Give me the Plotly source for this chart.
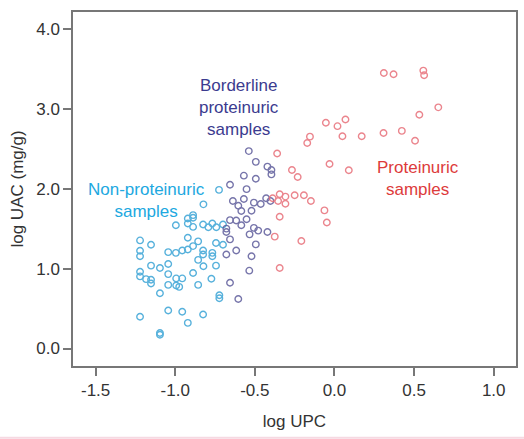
import plotly.graph_objects as go

# Non-proteinuric samples
non_x = [-0.725, -0.823, -0.888, -0.888, -0.921, -0.921, -0.996, -0.888, -0.825, -0.792,
         -0.767, -0.742, -0.700, -0.921, -0.856, -0.744, -0.700, -1.221, -1.152, -1.221,
         -1.221, -1.044, -0.996, -0.956, -0.921, -0.888, -0.825, -0.825, -0.767, -0.767,
         -0.856, -1.152, -1.096, -1.044, -1.044, -0.823, -0.744, -1.221, -1.221, -1.183,
         -1.152, -1.152, -0.994, -0.956, -0.888, -0.773, -1.044, -0.994, -0.975, -0.856,
         -1.096, -0.723, -0.723, -1.221, -1.044, -0.956, -0.825, -0.921, -1.096, -1.096]
non_y = [1.987, 1.806, 1.671, 1.637, 1.629, 1.565, 1.544, 1.523, 1.553, 1.519,
         1.565, 1.519, 1.553, 1.388, 1.342, 1.321, 1.300, 1.354, 1.300, 1.224,
         1.156, 1.207, 1.198, 1.228, 1.241, 1.283, 1.228, 1.177, 1.198, 1.156,
         1.110, 1.038, 1.008, 1.059, 0.932, 1.030, 1.038, 0.962, 0.903, 0.869,
         0.861, 0.814, 0.878, 0.878, 0.945, 0.873, 0.797, 0.789, 0.772, 0.797,
         0.692, 0.667, 0.629, 0.397, 0.477, 0.460, 0.426, 0.321, 0.194, 0.173]

# Borderline proteinuric samples
bord_x = [-0.538, -0.494, -0.421, -0.396, -0.396, -0.569, -0.494, -0.656, -0.552, -0.569,
          -0.638, -0.604, -0.506, -0.463, -0.429, -0.402, -0.585, -0.521, -0.656, -0.617,
          -0.585, -0.552, -0.679, -0.679, -0.656, -0.506, -0.479, -0.421, -0.494, -0.533,
          -0.617, -0.679, -0.521, -0.656, -0.604, -0.535]
bord_y = [2.473, 2.338, 2.278, 2.236, 2.181, 2.165, 2.127, 2.051, 1.996, 1.873,
          1.848, 1.789, 1.827, 1.810, 1.882, 1.848, 1.722, 1.726, 1.608, 1.603,
          1.544, 1.620, 1.502, 1.460, 1.367, 1.511, 1.477, 1.460, 1.304, 1.430,
          1.228, 1.177, 1.156, 0.823, 0.620, 0.975]

# Proteinuric samples
prot_x = [0.310, 0.371, 0.558, 0.563, 0.652, 0.533, -0.054, 0.019, 0.069, -0.154,
          -0.171, 0.050, 0.171, 0.308, 0.423, 0.506, -0.360, -0.031, 0.090, -0.267,
          -0.231, -0.344, -0.388, -0.354, -0.308, -0.308, -0.250, -0.192, -0.148, -0.063,
          -0.048, -0.344, -0.375, -0.208, -0.344]
prot_y = [3.451, 3.435, 3.481, 3.422, 3.021, 2.928, 2.827, 2.785, 2.869, 2.654,
          2.574, 2.658, 2.658, 2.700, 2.726, 2.603, 2.443, 2.312, 2.232, 2.236,
          2.148, 1.932, 1.882, 1.848, 1.903, 1.814, 1.920, 1.920, 1.848, 1.730,
          1.578, 1.650, 1.401, 1.346, 1.008]

x_ticks = [-1.5, -1.0, -0.5, 0.0, 0.5, 1.0]
x_tick_labels = ["-1.5", "-1.0", "-0.5", "0.0", "0.5", "1.0"]
y_ticks = [0, 1, 2, 3, 4]
y_tick_labels = ["0.0", "1.0", "2.0", "3.0", "4.0"]

FONT = "Liberation Sans, Arial, Helvetica, sans-serif"

fig = go.Figure()

def add_series(xs, ys, color, name):
    fig.add_trace(go.Scatter(
        x=xs, y=ys, mode="markers", name=name, showlegend=False,
        marker=dict(symbol="circle-open", size=6.5, color=color,
                    line=dict(width=1.4, color=color)),
        opacity=0.85,
    ))

add_series(non_x, non_y, "#3aa4d6", "Non-proteinuric")
add_series(bord_x, bord_y, "#5f5d9c", "Borderline")
add_series(prot_x, prot_y, "#e8707a", "Proteinuric")

fig.add_annotation(x=-0.6, y=3.02, xref="x", yref="y", showarrow=False,
                   text="Borderline<br>proteinuric<br>samples",
                   font=dict(family=FONT, size=17, color="#3b3b8f"), align="center")
fig.add_annotation(x=-1.183, y=1.852, xref="x", yref="y", showarrow=False,
                   text="Non-proteinuric<br>samples",
                   font=dict(family=FONT, size=17, color="#21a8df"), align="center")
fig.add_annotation(x=0.525, y=2.127, xref="x", yref="y", showarrow=False,
                   text="Proteinuric<br>samples",
                   font=dict(family=FONT, size=17, color="#dd3b3b"), align="center")

axis_common = dict(showline=True, mirror=True, linecolor="#777777", linewidth=1.5,
                   ticks="outside", ticklen=8, tickwidth=1.5, tickcolor="#777777",
                   showgrid=False, zeroline=False,
                   tickfont=dict(family=FONT, size=17, color="#333333"))

fig.update_layout(
    width=524, height=439,
    margin=dict(l=73, r=6, t=12, b=73),
    paper_bgcolor="white", plot_bgcolor="white",
    xaxis=dict(range=[-1.642, 1.140], tickvals=x_ticks, ticktext=x_tick_labels,
               title=dict(text="log UPC", font=dict(family=FONT, size=17, color="#333333"),
                          standoff=16),
               **axis_common),
    yaxis=dict(range=[-0.219, 4.215], tickvals=y_ticks, ticktext=y_tick_labels,
               title=dict(text="log UAC (mg/g)", font=dict(family=FONT, size=17, color="#333333"),
                          standoff=8),
               **axis_common),
)

fig.add_shape(type="line", xref="paper", yref="paper",
              x0=-0.2, x1=1.05, y0=-0.203, y1=-0.203,
              line=dict(color="#f6d9e2", width=2))

fig.write_html("out.html")
